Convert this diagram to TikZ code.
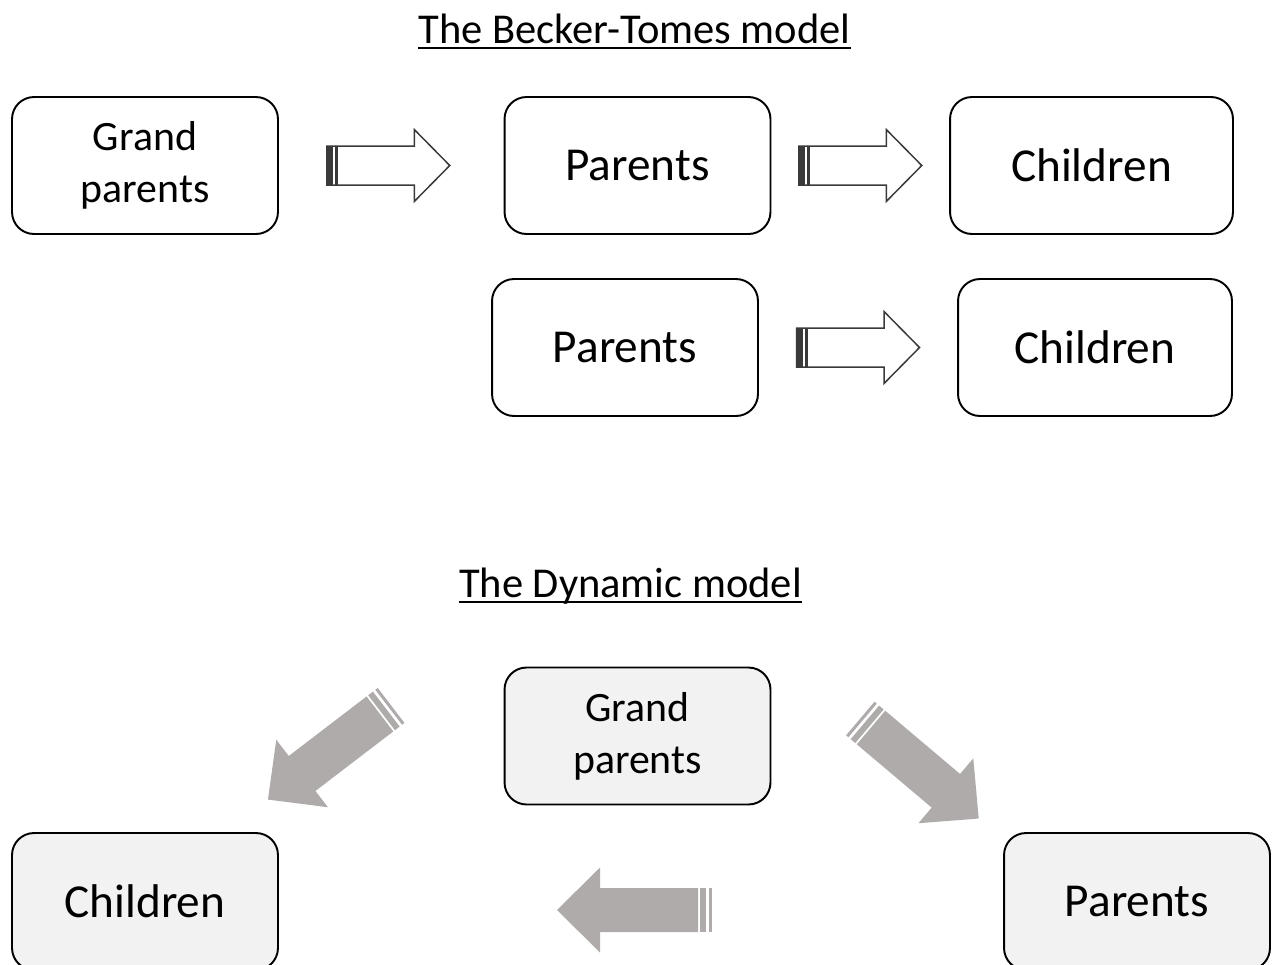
\documentclass[tikz,border=0pt]{standalone}
\usepackage{fontspec}
\setmainfont{Carlito}
\usetikzlibrary{calc}
\definecolor{arrowgrey}{HTML}{AEABAA}
\definecolor{boxgrey}{HTML}{F2F2F2}
\definecolor{outlinedark}{HTML}{3A3A3A}
\tikzset{
  % hollow arrow with striped tail, pointing right, centred on its origin
  hollowarrow/.pic={
    \draw[outlinedark, line width=0.85pt, fill=white] (-61.5,-19.5) -- (26,-19.5) -- (26,-36) -- (61.5,0) -- (26,36) -- (26,19.5) -- (-61.5,19.5) -- cycle;
    \fill[outlinedark] (-61.5,-19.5) rectangle (-55,19.5);
    \fill[outlinedark] (-53,-19.5) rectangle (-50.5,19.5);
  },
  % solid grey arrow with striped tail
  greyarrow/.pic={
    \fill[arrowgrey] (-63.5,-22) -- (34.5,-22) -- (34.5,-42.5) -- (77.5,0) -- (34.5,42.5) -- (34.5,22) -- (-63.5,22) -- cycle;
    \fill[arrowgrey] (-71.5,-22) rectangle (-65.5,22);
    \fill[arrowgrey] (-77.5,-22) rectangle (-74.5,22);
  },
}
\begin{document}
\begin{tikzpicture}[x=0.02cm, y=0.02cm,
  modelbox/.style={draw, rounded corners=0.44cm, line width=1.1pt, minimum width=5.32cm, minimum height=2.74cm, align=center, font=\fontsize{26.9}{30}\selectfont},
  grandbox/.style={modelbox, font=\fontsize{23.8}{29.5}\selectfont},
  titletext/.style={anchor=base, inner sep=0pt, font=\fontsize{24.2}{28}\selectfont}]
  \useasboundingbox (0,0) rectangle (1277,-964);
  % Becker-Tomes model
  \node[titletext] (title1) at (634.5,-43) {The Becker-Tomes model};
  \draw[line width=1.1pt] ([yshift=-2.8pt]title1.base west) -- ([yshift=-2.8pt]title1.base east);
  \node[grandbox] (gp1) at (145,-165.5) {Grand\\parents};
  \node[modelbox] (p1) at (637.5,-165.5) {Parents};
  \node[modelbox, minimum width=5.66cm] (c1) at (1091.5,-165.5) {Children};
  \node[modelbox] (p2) at (625,-347.5) {Parents};
  \node[modelbox, minimum width=5.48cm] (c2) at (1095,-347.5) {Children};
  \pic at ($(gp1.east)!0.5!(p1.west)+(-3,0)$) {hollowarrow};
  \pic at ($(p1.east)!0.5!(c1.west)$) {hollowarrow};
  \pic at ($(p2.east)!0.5!(c2.west)$) {hollowarrow};
  % Dynamic model
  \node[titletext] (title2) at (630.5,-597) {The Dynamic model};
  \draw[line width=1.1pt] ([yshift=-2.8pt]title2.base west) -- ([yshift=-2.8pt]title2.base east);
  \node[grandbox, fill=boxgrey] (gp3) at (637.5,-736) {Grand\\parents};
  \node[modelbox, fill=boxgrey] (c3) at (145,-901.5) {Children};
  \node[modelbox, fill=boxgrey] (p3) at (1137,-901.5) {Parents};
  \pic[rotate=217.4] at (329.5,-752.5) {greyarrow};
  \pic[rotate=-40.2] at (919.5,-768.5) {greyarrow};
  \pic[rotate=180] at (634.5,-910) {greyarrow};
\end{tikzpicture}
\end{document}
